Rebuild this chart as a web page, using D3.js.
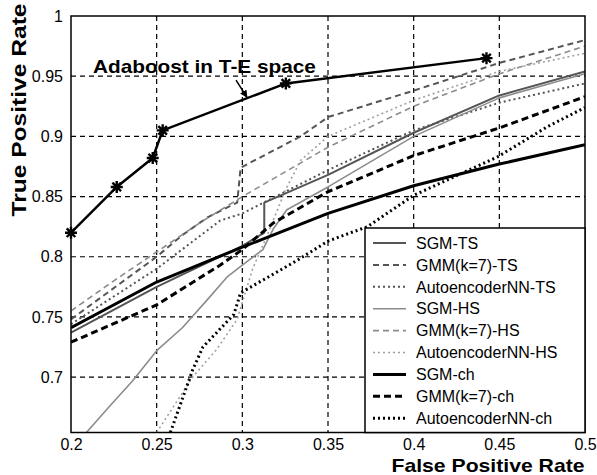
<!DOCTYPE html>
<html>
<head>
<meta charset="utf-8">
<script src="https://cdn.jsdelivr.net/npm/d3@7/dist/d3.min.js"></script>
<style>
  body { margin: 0; background: #fff; }
  text { font-family: "Liberation Sans", Arial, sans-serif; }
</style>
</head>
<body>
<script>
// ticks
var xTicks = [0.2, 0.25, 0.3, 0.35, 0.4, 0.45, 0.5];
var xTickLabels = ["0.2", "0.25", "0.3", "0.35", "0.4", "0.45", "0.5"];
var yTicks = [0.7, 0.75, 0.8, 0.85, 0.9, 0.95, 1];
var yTickLabels = ["0.7", "0.75", "0.8", "0.85", "0.9", "0.95", "1"];

// Adaboost in T-E space (FPR, TPR) - starred points
var adaboost = [[0.2, 0.82], [0.2267, 0.858], [0.2477, 0.882], [0.2535, 0.905], [0.3254, 0.944], [0.4425, 0.965]];

// ROC curves (FPR, TPR)
var sgmTS = [[0.2, 0.737], [0.25, 0.775], [0.3, 0.809], [0.3128, 0.82], [0.3128, 0.845], [0.35, 0.868], [0.4, 0.903], [0.45, 0.934], [0.5, 0.954]];
var gmmTS = [[0.2, 0.748], [0.25, 0.80], [0.265, 0.818], [0.28, 0.833], [0.297, 0.845], [0.299, 0.874], [0.334, 0.90], [0.35, 0.916], [0.4, 0.938], [0.45, 0.961], [0.5, 0.98]];
var aeTS = [[0.2, 0.744], [0.25, 0.79], [0.287, 0.83], [0.3, 0.836], [0.35, 0.872], [0.4, 0.905], [0.45, 0.928], [0.5, 0.944]];
var sgmHS = [[0.209, 0.654], [0.222, 0.675], [0.236, 0.697], [0.25, 0.722], [0.265, 0.741], [0.28, 0.765], [0.291, 0.783], [0.3, 0.793], [0.312, 0.806], [0.318, 0.823], [0.326, 0.839], [0.35, 0.858], [0.4, 0.90], [0.45, 0.932], [0.5, 0.952]];
var gmmHS = [[0.2, 0.755], [0.225, 0.78], [0.25, 0.804], [0.275, 0.828], [0.3, 0.85], [0.35, 0.891], [0.4, 0.925], [0.45, 0.952], [0.5, 0.975]];
var aeHS = [[0.25, 0.654], [0.271, 0.70], [0.285, 0.723], [0.297, 0.748], [0.306, 0.79], [0.314, 0.816], [0.325, 0.855], [0.334, 0.88], [0.35, 0.90], [0.4, 0.93], [0.45, 0.954], [0.5, 0.969]];
var sgmCh = [[0.2, 0.741], [0.25, 0.779], [0.3, 0.808], [0.35, 0.836], [0.4, 0.859], [0.45, 0.877], [0.5, 0.893]];
var gmmCh = [[0.2, 0.729], [0.25, 0.76], [0.287, 0.793], [0.3, 0.806], [0.318, 0.828], [0.35, 0.854], [0.4, 0.884], [0.45, 0.907], [0.5, 0.933]];
var aeCh = [[0.258, 0.654], [0.271, 0.706], [0.277, 0.725], [0.295, 0.752], [0.299, 0.77], [0.332, 0.797], [0.35, 0.813], [0.373, 0.825], [0.4, 0.851], [0.449, 0.883], [0.478, 0.908], [0.5, 0.924]];

var seriesNames = ["SGM-TS", "GMM(k=7)-TS", "AutoencoderNN-TS", "SGM-HS", "GMM(k=7)-HS", "AutoencoderNN-HS", "SGM-ch", "GMM(k=7)-ch", "AutoencoderNN-ch"];
var seriesData = [sgmTS, gmmTS, aeTS, sgmHS, gmmHS, aeHS, sgmCh, gmmCh, aeCh];

// look of each series (kept apart from the values)
var seriesStyle = [
  {color: "#555", width: 2, dash: null},
  {color: "#555", width: 2, dash: "6,4"},
  {color: "#555", width: 2, dash: "2,3"},
  {color: "#8c8c8c", width: 1.6, dash: null},
  {color: "#8c8c8c", width: 1.6, dash: "6,4"},
  {color: "#a0a0a0", width: 1.6, dash: "2,3"},
  {color: "#000", width: 3, dash: null},
  {color: "#000", width: 3, dash: "7,4"},
  {color: "#000", width: 3, dash: "2,3"}
];

var W = 597, H = 475;
var padL = 71, padR = 585, padT = 16, padB = 432.5;

var svg = d3.select("body").append("svg")
    .attr("width", W)
    .attr("height", H);

svg.append("rect").attr("width", W).attr("height", H).attr("fill", "#fff");

var x = d3.scaleLinear().domain([0.2, 0.5]).range([padL, padR]);
var y = d3.scaleLinear().domain([0.654, 1]).range([padB, padT]);

svg.append("clipPath").attr("id", "plotclip")
  .append("rect")
    .attr("x", padL).attr("y", padT)
    .attr("width", padR - padL).attr("height", padB - padT);

// grid
var grid = svg.append("g");
grid.selectAll("line.vx")
    .data(xTicks.slice(1, -1))
    .enter().append("line")
    .attr("x1", d => x(d)).attr("x2", d => x(d))
    .attr("y1", padT).attr("y2", padB)
    .attr("stroke", "#000").attr("stroke-width", 1.2)
    .attr("stroke-dasharray", "5,4");
grid.selectAll("line.hy")
    .data(yTicks.slice(0, -1))
    .enter().append("line")
    .attr("y1", d => y(d)).attr("y2", d => y(d))
    .attr("x1", padL).attr("x2", padR)
    .attr("stroke", "#000").attr("stroke-width", 1.2)
    .attr("stroke-dasharray", "5,4");

// axes (tick labels only, the grid stands in for the tick marks)
var xAxis = d3.axisBottom(x).tickValues(xTicks)
    .tickFormat((d, i) => xTickLabels[i]).tickSize(0).tickPadding(6);
var gx = svg.append("g").attr("transform", "translate(0," + padB + ")").call(xAxis);
gx.select(".domain").remove();
gx.selectAll("text").attr("font-size", 16).attr("fill", "#000")
    .attr("font-family", "Liberation Sans, Arial, sans-serif");

var yAxis = d3.axisLeft(y).tickValues(yTicks)
    .tickFormat((d, i) => yTickLabels[i]).tickSize(0).tickPadding(8);
var gy = svg.append("g").attr("transform", "translate(" + padL + ",0)").call(yAxis);
gy.select(".domain").remove();
gy.selectAll("text").attr("font-size", 16).attr("fill", "#000")
    .attr("font-family", "Liberation Sans, Arial, sans-serif");

// curves
var line = d3.line().x(d => x(d[0])).y(d => y(d[1]));
var curves = svg.append("g").attr("clip-path", "url(#plotclip)");
seriesData.forEach(function(s, i) {
  var st = seriesStyle[i];
  curves.append("path")
    .attr("d", line(s))
    .attr("fill", "none")
    .attr("stroke", st.color)
    .attr("stroke-width", st.width)
    .attr("stroke-dasharray", st.dash)
    .attr("stroke-linejoin", "round");
});

// adaboost line and star markers
curves.append("path")
    .attr("d", line(adaboost))
    .attr("fill", "none")
    .attr("stroke", "#000")
    .attr("stroke-width", 2.5);

var star = "M-6,0L6,0M0,-6L0,6M-4.3,-4.3L4.3,4.3M-4.3,4.3L4.3,-4.3";
svg.append("g").selectAll("path")
    .data(adaboost)
    .enter().append("path")
    .attr("transform", d => "translate(" + x(d[0]) + "," + y(d[1]) + ")")
    .attr("d", star)
    .attr("stroke", "#000")
    .attr("stroke-width", 2.4);

// annotation
svg.append("defs").append("marker")
    .attr("id", "arrowhead")
    .attr("viewBox", "0 0 10 10")
    .attr("refX", 9).attr("refY", 5)
    .attr("markerWidth", 5).attr("markerHeight", 5)
    .attr("orient", "auto")
  .append("path").attr("d", "M0,0L10,5L0,10z").attr("fill", "#000");

svg.append("text")
    .attr("x", x(0.2128)).attr("y", y(0.953))
    .attr("font-size", 19).attr("font-weight", "bold")
    .attr("textLength", 223).attr("lengthAdjust", "spacingAndGlyphs")
    .text("Adaboost in T-E space");

svg.append("line")
    .attr("x1", x(0.2963)).attr("y1", y(0.9468))
    .attr("x2", x(0.3027)).attr("y2", y(0.9325))
    .attr("stroke", "#000").attr("stroke-width", 1.5)
    .attr("marker-end", "url(#arrowhead)");

// frame
svg.append("rect")
    .attr("x", padL).attr("y", padT)
    .attr("width", padR - padL).attr("height", padB - padT)
    .attr("fill", "none").attr("stroke", "#000").attr("stroke-width", 1.5);

// legend
var lg = svg.append("g");
lg.append("rect")
    .attr("x", 365).attr("y", 228)
    .attr("width", padR - 365).attr("height", padB - 228)
    .attr("fill", "#fff").attr("stroke", "#000").attr("stroke-width", 1.5);
seriesNames.forEach(function(name, i) {
  var st = seriesStyle[i];
  var ly = 243 + i * 21.9;
  lg.append("line")
    .attr("x1", 373).attr("x2", 406).attr("y1", ly).attr("y2", ly)
    .attr("stroke", st.color).attr("stroke-width", st.width)
    .attr("stroke-dasharray", st.dash);
  lg.append("text")
    .attr("x", 416).attr("y", ly).attr("dy", "0.36em")
    .attr("font-size", 16)
    .text(name);
});

// axis titles
svg.append("text")
    .attr("x", 488).attr("y", 472)
    .attr("text-anchor", "middle")
    .attr("font-size", 19).attr("font-weight", "bold")
    .attr("textLength", 193).attr("lengthAdjust", "spacingAndGlyphs")
    .text("False Positive Rate");

svg.append("text")
    .attr("transform", "translate(26,110) rotate(-90)")
    .attr("text-anchor", "middle")
    .attr("font-size", 21).attr("font-weight", "bold")
    .attr("textLength", 213).attr("lengthAdjust", "spacingAndGlyphs")
    .text("True Positive Rate");
</script>
</body>
</html>
